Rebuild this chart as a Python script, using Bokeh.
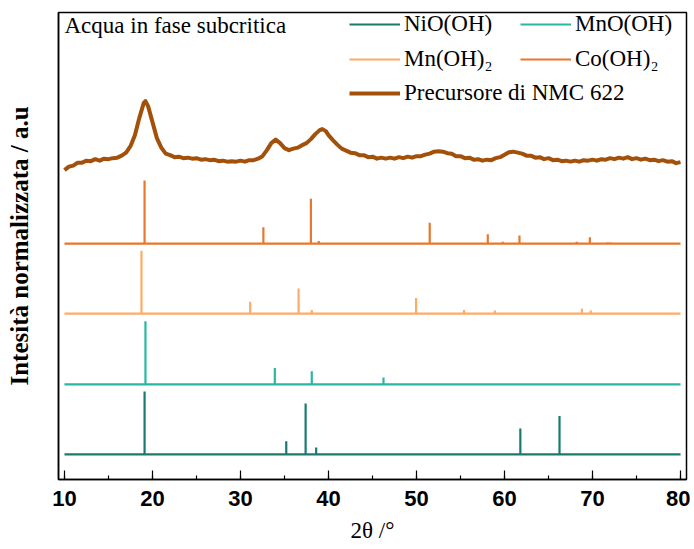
from bokeh.plotting import figure
from bokeh.models import Range1d, SingleIntervalTicker, FixedTicker, Legend, LegendItem, Label
from bokeh.embed import file_html
from bokeh.resources import INLINE

# ---------------- data ----------------
names = ["NiO(OH)", "MnO(OH)", "Mn(OH)₂", "Co(OH)₂", "Precursore di NMC 622"]
colors = ["#1a7a70", "#26b8a3", "#fdab66", "#e8772e", "#a3510a"]

# reference stick patterns: 2theta positions and relative intensities (%)
nio_pos = [19.1, 35.2, 37.4, 38.6, 61.8, 66.25]
nio_int = [100, 21, 81, 11, 41, 61]

mno_pos = [19.2, 33.9, 38.1, 46.25, 59.6, 61.8]
mno_int = [100, 26, 21, 11, 1.5, 1.5]

mnoh2_pos = [18.75, 31.1, 36.6, 38.1, 49.95, 55.4, 58.9, 68.8, 69.8]
mnoh2_int = [100, 19, 40, 6, 25, 6, 5, 8, 5]

cooh2_pos = [19.1, 32.6, 38.0, 38.9, 51.5, 58.1, 59.8, 61.7, 68.2, 69.7, 71.7, 72.0]
cooh2_int = [100, 26, 71, 4, 33, 15, 3, 13, 3, 10, 2, 2]

# measured precursor pattern (a.u.)
pre_2theta = [10.0, 10.5, 11.0, 11.5, 12.0, 12.5, 13.0, 13.5, 14.0, 14.5, 15.0, 15.5, 16.0, 16.5,
              17.0, 17.5, 18.0, 18.5, 19.0, 19.2, 19.5, 20.0, 20.5, 21.0, 21.5, 22.0, 22.5, 23.0,
              23.5, 24.0, 24.5, 25.0, 25.5, 26.0, 26.5, 27.0, 27.5, 28.0, 28.5, 29.0, 29.5, 30.0,
              30.5, 31.0, 31.5, 32.0, 32.5, 33.0, 33.5, 34.0, 34.5, 35.0, 35.5, 36.0, 36.5, 37.0,
              37.5, 38.0, 38.5, 39.0, 39.3, 39.7, 40.0, 40.5, 41.0, 41.5, 42.0, 42.5, 43.0, 43.5,
              44.0, 44.5, 45.0, 45.5, 46.0, 46.5, 47.0, 47.5, 48.0, 48.5, 49.0, 49.5, 50.0, 50.5,
              51.0, 51.5, 52.0, 52.5, 53.0, 53.5, 54.0, 54.5, 55.0, 55.5, 56.0, 56.5, 57.0, 57.5,
              58.0, 58.5, 59.0, 59.5, 60.0, 60.5, 61.0, 61.5, 62.0, 62.5, 63.0, 63.5, 64.0, 64.5,
              65.0, 65.5, 66.0, 66.5, 67.0, 67.5, 68.0, 68.5, 69.0, 69.5, 70.0, 70.5, 71.0, 71.5,
              72.0, 72.5, 73.0, 73.5, 74.0, 74.5, 75.0, 75.5, 76.0, 76.5, 77.0, 77.5, 78.0, 78.5,
              79.0, 79.5, 80.0]
pre_int = [5, 8.5, 9.5, 12.5, 12.5, 14.5, 14, 16, 14.5, 16.5, 16, 17, 17.5, 19.5,
           22.5, 29, 40, 57, 72, 74, 69, 53, 37, 27.5, 21.5, 20, 18, 18.5,
           17, 17.5, 16.5, 17, 15.5, 16, 15, 15.5, 14, 14.5, 13.5, 14, 13.5, 14.5,
           13.5, 15, 15, 16.5, 19, 25, 32, 35.5, 32, 27, 25, 26.5, 27.5, 30,
           32, 36, 41, 45, 46, 44, 40, 35, 30.5, 26.5, 24.5, 22.5, 22, 20,
           20, 18, 18.5, 16.5, 17.5, 16.5, 17.5, 16.5, 18, 17, 18.5, 17.5, 19, 19,
           20.5, 21.5, 23.5, 24, 23.5, 22, 21.5, 19, 19, 17, 17.5, 15.5, 16, 14.5,
           15.5, 15, 17, 18, 20.5, 23, 23.5, 22.5, 21.5, 19.5, 19.5, 17.5, 18, 16,
           17, 15, 15.5, 14, 14.5, 13.5, 14.5, 13.5, 15, 14.5, 15.5, 14.5, 16, 15.5,
           17, 16, 17.5, 16.5, 18, 16, 17, 15.5, 16.5, 15, 15.5, 14, 15, 13.5,
           14, 12, 13]

# vertical stacking offsets (normalized units)
offsets = [0, 111.1, 223.3, 334.4, 443]
pre_scale = 1 / 0.63
x_lo, x_hi = 10, 80

# ---------------- figure ----------------
p = figure(width=690, height=549, output_backend="svg", toolbar_location=None,
           x_range=Range1d(9.32, 80.68), y_range=Range1d(-39.7, 701),
           min_border_left=58, min_border_right=4, min_border_top=12, min_border_bottom=70)
p.xgrid.visible = False
p.ygrid.visible = False
p.outline_line_color = "black"
p.outline_line_width = 1.5
p.background_fill_color = "white"


def stick_line(pos, inten, off):
    xs, ys = [x_lo], [off]
    for x, h in zip(pos, inten):
        xs += [x, x, x]
        ys += [off, off + h, off]
    xs.append(x_hi)
    ys.append(off)
    return xs, ys


renderers = []
for (pos, inten), off, col in zip([(nio_pos, nio_int), (mno_pos, mno_int),
                                   (mnoh2_pos, mnoh2_int), (cooh2_pos, cooh2_int)],
                                  offsets[:4], colors[:4]):
    xs, ys = stick_line(pos, inten, off)
    r = p.line(xs, ys, line_color=col, line_width=2.2)
    renderers.append(r)

pre_y = [offsets[4] + v * pre_scale for v in pre_int]
r_pre = p.line(pre_2theta, pre_y, line_color=colors[4], line_width=4, line_join="round")
renderers.append(r_pre)

# axes
p.xaxis.ticker = SingleIntervalTicker(interval=10, num_minor_ticks=2)
p.xaxis.major_tick_in = 9
p.xaxis.major_tick_out = 0
p.xaxis.minor_tick_in = 4
p.xaxis.minor_tick_out = 0
p.xaxis.axis_line_width = 1.5
p.xaxis.major_tick_line_width = 1.2
p.xaxis.minor_tick_line_width = 1.2
p.xaxis.major_label_text_font = "Liberation Sans"
p.xaxis.major_label_text_font_style = "bold"
p.xaxis.major_label_text_font_size = "22px"
p.xaxis.major_label_text_color = "black"
p.xaxis.major_label_standoff = 11
p.xaxis.axis_label = "2θ /°"
p.xaxis.axis_label_text_font = "Liberation Serif"
p.xaxis.axis_label_text_font_style = "normal"
p.xaxis.axis_label_text_font_size = "23px"
p.xaxis.axis_label_text_color = "black"
p.xaxis.axis_label_standoff = 9

p.yaxis.ticker = FixedTicker(ticks=[])
p.yaxis.major_tick_out = 0
p.yaxis.major_tick_in = 0
p.yaxis.minor_tick_out = 0
p.yaxis.minor_tick_in = 0
p.yaxis.axis_line_width = 1.5
p.yaxis.axis_label = "Intesità normalizzata / a.u"
p.yaxis.axis_label_text_font = "Liberation Serif"
p.yaxis.axis_label_text_font_style = "bold"
p.yaxis.axis_label_text_font_size = "25px"
p.yaxis.axis_label_text_color = "black"
p.yaxis.axis_label_standoff = 26

# legend entries (2 x 2 grid + one row), positions relative to the frame
legend_pos = [(291, 442), (462, 442), (291, 407.5), (462, 407.5), (291, 373)]
for name, r, loc in zip(names, renderers, legend_pos):
    leg = Legend(items=[LegendItem(label=name, renderers=[r])], location=loc,
                 glyph_width=51, glyph_height=26, label_height=26, label_standoff=4,
                 padding=0, margin=0, border_line_color=None, background_fill_alpha=0,
                 label_text_font="Liberation Serif", label_text_font_size="23px",
                 label_text_color="black")
    p.add_layout(leg)

p.add_layout(Label(x=6, y=454, x_units="screen", y_units="screen",
                   text="Acqua in fase subcritica", text_font="Liberation Serif",
                   text_font_size="23px", text_baseline="alphabetic", text_color="black"))

open("out.html", "w").write(file_html(p, INLINE))
